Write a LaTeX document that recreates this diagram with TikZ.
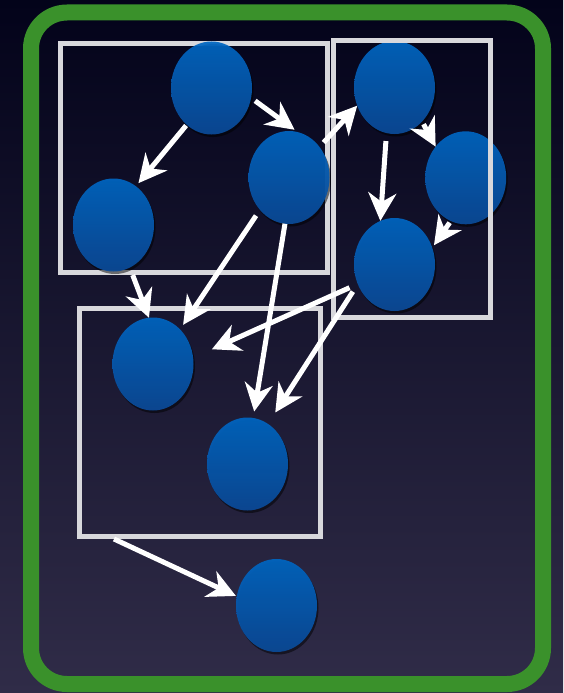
\documentclass[tikz,border=0pt]{standalone}
\usetikzlibrary{arrows.meta,shapes.geometric,shadows,calc}
\definecolor{bgtop}{HTML}{03031A}
\definecolor{bgbot}{HTML}{302C48}
\definecolor{framegreen}{HTML}{3A912B}
\definecolor{boxline}{HTML}{D8D8DC}
\definecolor{blobtop}{HTML}{0066C2}
\definecolor{blobbot}{HTML}{0B4A98}
\begin{document}
\begin{tikzpicture}[x=1pt,y=-1pt,
  blob/.style={ellipse, minimum width=81pt, minimum height=93pt, inner sep=0pt, outer sep=0pt,
    top color=blobtop, bottom color=blobbot, draw=none, fill opacity=0.93,
    drop shadow={fill=black, opacity=0.5, shadow xshift=1.5pt, shadow yshift=-2.5pt}},
  grp/.style={draw=boxline, line width=5pt, inner sep=0pt, outer sep=0pt},
  arr/.style={draw=white, line width=5pt, -{Stealth[length=28pt,width=28pt,inset=9pt]}}]
\useasboundingbox (0,0) rectangle (563,693);
\shade[top color=bgtop, bottom color=bgbot] (0,0) rectangle (563,693);
\draw[framegreen, line width=16pt, rounded corners=36pt] (31,12.5) rectangle (543,684);

\node[grp, minimum width=267pt, minimum height=228pt] (box1) at (193.5,158) {};
\node[grp, minimum width=241.5pt, minimum height=228pt] (box3) at (199.75,422) {};

\node[blob] (A) at (211.5,88) {};
\node[blob] (B) at (289,177.5) {};
\node[blob] (C) at (113.5,225) {};
\node[blob] (D) at (394.5,87.5) {};
\node[blob] (E) at (465.7,177.8) {};
\node[blob] (F) at (394.5,264.5) {};
\node[blob] (G) at (153,364) {};
\node[blob] (H) at (247.5,464) {};
\node[blob] (I) at (276.5,605.5) {};

\node[grp, minimum width=156.5pt, minimum height=276.5pt] (box2) at (411.75,179.25) {};

\draw[arr, shorten <=1pt, shorten >=4pt] (A.236) -- (C.60);
\draw[arr, shorten <=5pt, shorten >=4pt] (A.346) -- (B.79);
\draw[arr, shorten <=6pt] (B.45) -- (D.206);
\draw[arr, shorten <=3pt] (D.309) -- (E.134);
\draw[arr, shorten <=8pt] (D.260) -- (F.108);
\draw[arr, shorten <=2pt, shorten >=3pt] (E.251) -- (F.24);
\draw[arr, shorten <=8pt] (C.291) -- (G.95);
\draw[arr, shorten <=7pt, shorten >=5.5pt] (B.228) -- (G.52);
\draw[arr, shorten >=6.5pt] (B.265) -- (H.83);
\draw[arr, shorten <=9pt, shorten >=20.5pt] (F.208) -- (G.9);
\draw[arr, shorten <=9pt, shorten >=13.5pt] (F.208) -- (H.63);
\draw[arr, shorten >=1pt] ([xshift=35pt,yshift=-3pt]box3.south west) -- (I.167);
\end{tikzpicture}
\end{document}
